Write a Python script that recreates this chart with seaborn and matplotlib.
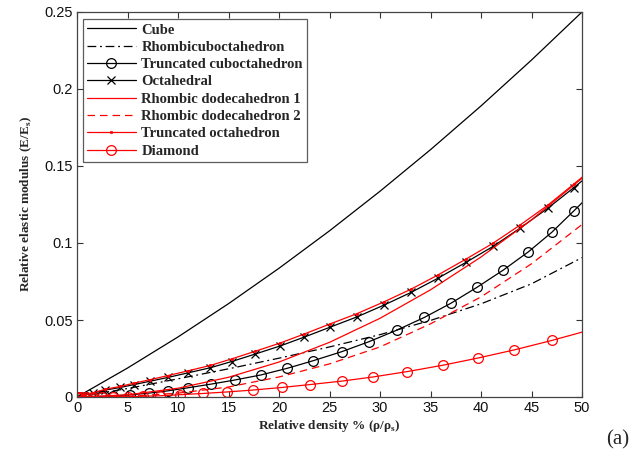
import matplotlib
matplotlib.use("Agg")
import matplotlib.pyplot as plt
import seaborn as sns
import numpy as np

# ---------------- data ----------------
cube_x = [0, 5, 10, 15, 20, 25, 30, 35, 40, 45, 50]
cube_y = [0, 0.0188, 0.0390, 0.0606, 0.0836, 0.1079, 0.1336, 0.1606, 0.1890, 0.2188, 0.2500]

rhco_x = [0, 5, 10, 15, 20, 25, 30, 35, 40, 45, 50]
rhco_y = [0, 0.0055, 0.0118, 0.0183, 0.0252, 0.0325, 0.0405, 0.0497, 0.0605, 0.0735, 0.0905]

tcub_x = [0, 0.3, 0.9, 1.6, 2.5, 3.6, 5.2, 7.1, 9.0, 11.0, 13.3, 15.6, 18.2, 20.8,
          23.4, 26.2, 28.9, 31.7, 34.4, 37.0, 39.6, 42.2, 44.7, 47.0, 49.2, 51.3]
tcub_y = [0, 0.00001, 0.00005, 0.00015, 0.00034, 0.0007, 0.0014, 0.0025, 0.0040, 0.0060,
          0.0084, 0.0110, 0.0143, 0.0186, 0.0236, 0.0294, 0.0359, 0.0435, 0.0517, 0.0608,
          0.0712, 0.0824, 0.0943, 0.1069, 0.1209, 0.1345]

octa_x = [0, 0.6, 1.6, 2.8, 4.3, 5.6, 7.2, 9.0, 11.0, 13.2, 15.3, 17.6, 20.1, 22.5,
          25.0, 27.75, 30.4, 33.1, 35.7, 38.5, 41.2, 43.9, 46.6, 49.2, 51.8]
octa_y = [0, 0.0009, 0.0025, 0.0045, 0.0062, 0.0080, 0.0102, 0.0127, 0.0157, 0.0190,
          0.0230, 0.0278, 0.0331, 0.0389, 0.0452, 0.0521, 0.0597, 0.0680, 0.0770, 0.0874,
          0.0978, 0.1098, 0.1225, 0.1360, 0.1500]

rd1_x = [0, 5, 10, 15, 20, 25, 30, 35, 40, 45, 50]
rd1_y = [0, 0.0014, 0.0057, 0.0128, 0.0227, 0.0355, 0.0511, 0.0696, 0.0909, 0.1150, 0.1420]

rd2_x = [0, 5, 10, 15, 20, 25, 30, 35, 40, 45, 50]
rd2_y = [0, 0.0004, 0.0025, 0.0065, 0.0130, 0.0215, 0.0325, 0.0475, 0.0650, 0.0865, 0.1120]

toct_x = octa_x
toct_y = [0, 0.0010, 0.0028, 0.0050, 0.0069, 0.0089, 0.0112, 0.0139, 0.0170, 0.0205,
          0.0247, 0.0296, 0.0350, 0.0409, 0.0473, 0.0542, 0.0618, 0.0701, 0.0791, 0.0895,
          0.0999, 0.1118, 0.1245, 0.1383, 0.1525]

diam_x = [0, 0.1, 0.4, 0.9, 1.6, 2.5, 3.6, 5.0, 6.5, 8.2, 10.2, 12.5, 14.9, 17.4, 20.3,
          23.1, 26.2, 29.3, 32.7, 36.2, 39.7, 43.3, 47.0, 51.1]
diam_y = [0, 0, 0, 0.00001, 0.00002, 0.00006, 0.00013, 0.00026, 0.00047, 0.00079, 0.0015,
          0.0023, 0.0033, 0.0045, 0.0062, 0.0081, 0.0103, 0.0130, 0.0165, 0.0206, 0.0253,
          0.0306, 0.0367, 0.0441]

x_ticks = [0, 5, 10, 15, 20, 25, 30, 35, 40, 45, 50]
y_ticks = [0, 0.05, 0.1, 0.15, 0.2, 0.25]
y_ticklabels = ["0", "0.05", "0.1", "0.15", "0.2", "0.25"]

# ---------------- figure ----------------
sns.set_theme(style="white")
plt.rcParams["font.family"] = ["Liberation Sans", "DejaVu Sans"]

fig = plt.figure(figsize=(6.41, 4.57), dpi=100)
ax = fig.add_axes([77 / 641, 1 - 397 / 457, (582 - 77) / 641, (397 - 12) / 457])

RED = "#ff0000"
BLK = "#000000"
lw = 0.9

series = [
    ("Cube", cube_x, cube_y, dict(color=BLK, linestyle="-")),
    ("Rhombicuboctahedron", rhco_x, rhco_y, dict(color=BLK, linestyle=(0, (7, 3, 1.5, 3)))),
    ("Truncated cuboctahedron", tcub_x, tcub_y,
     dict(color=BLK, linestyle="-", marker="o", markersize=7, markerfacecolor="none",
          markeredgecolor=BLK, markeredgewidth=0.9)),
    ("Octahedral", octa_x, octa_y,
     dict(color=BLK, linestyle="-", marker="x", markersize=5.5, markeredgecolor=BLK,
          markeredgewidth=0.9)),
    ("Rhombic dodecahedron 1", rd1_x, rd1_y, dict(color=RED, linestyle="-")),
    ("Rhombic dodecahedron 2", rd2_x, rd2_y, dict(color=RED, linestyle=(0, (6, 4)))),
    ("Truncated octahedron", toct_x, toct_y,
     dict(color=RED, linestyle="-", marker=".", markersize=3.5, markeredgecolor=RED,
          markerfacecolor=RED, markeredgewidth=0.5)),
    ("Diamond", diam_x, diam_y,
     dict(color=RED, linestyle="-", marker="o", markersize=7, markerfacecolor="none",
          markeredgecolor=RED, markeredgewidth=0.9)),
]

for name, xs, ys, st in series:
    sns.lineplot(x=xs, y=ys, ax=ax, label=name, linewidth=lw, sort=False,
                 estimator=None, **st)

ax.set_xlim(0, 50)
ax.set_ylim(0, 0.25)
ax.set_xticks(x_ticks)
ax.set_xticklabels([str(t) for t in x_ticks])
ax.set_yticks(y_ticks)
ax.set_yticklabels(y_ticklabels)
ax.tick_params(direction="in", length=4, width=0.8, colors="#333333",
               labelcolor="#111111", labelsize=10.5, top=True, right=True,
               bottom=True, left=True, pad=3)
for s in ax.spines.values():
    s.set_visible(True)
    s.set_color("#444444")
    s.set_linewidth(0.9)

ax.set_xlabel(r"Relative density % (ρ/ρ$_\mathregular{s}$)",
              family="Liberation Serif", weight="bold", fontsize=9.5, labelpad=2)
ax.set_ylabel(r"Relative elastic modulus (E/E$_\mathregular{s}$)",
              family="Liberation Serif", weight="bold", fontsize=9.5, labelpad=7)

leg = ax.legend(loc="upper left", bbox_to_anchor=(6 / 505, 1 - 7 / 385),
                prop=dict(family="Liberation Serif", weight="bold", size=10.5),
                frameon=True, fancybox=False, edgecolor="#333333",
                handlelength=3.3, handletextpad=0.4, borderpad=0.3,
                labelspacing=0.28, borderaxespad=0, numpoints=1)
leg.get_frame().set_linewidth(0.9)

fig.text(618 / 641, 1 - 440 / 457, "(a)", family="Liberation Serif", fontsize=15,
         ha="center", va="center")

fig.savefig("out.png", dpi=100, facecolor="white")
